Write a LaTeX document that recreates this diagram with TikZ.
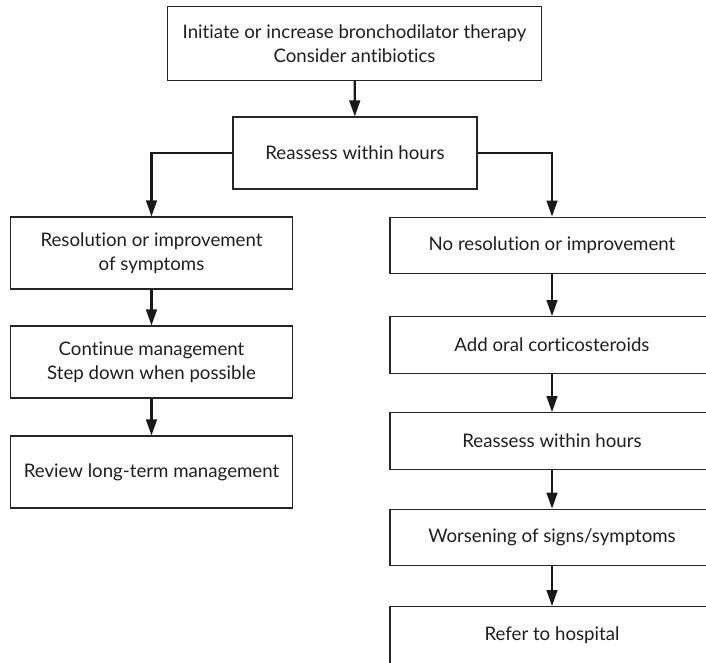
\documentclass[tikz,border=0pt]{standalone}
\usepackage{fontspec}
\setmainfont{Lato}[Ligatures=NoCommon]
\usetikzlibrary{arrows.meta}

\begin{document}
\begin{tikzpicture}[x=0.75pt,y=-0.75pt,
          box/.style={draw=black!85,line width=0.8pt,inner sep=0pt,align=center,
            text=black!88,font=\fontsize{14}{18}\selectfont},
          wide/.style={box,minimum width=212pt,minimum height=54pt},
          flat/.style={box,minimum width=243pt,minimum height=42.5pt},
          flow/.style={line width=1.7pt,draw=black!90,-{Triangle[length=12pt,width=8pt]}}]
          \useasboundingbox (0,0) rectangle (706,662);
          \node[box,minimum width=281pt,minimum height=55pt] (start) at (354.5,43.5)
            {Initiate or increase bronchodilator therapy\\Consider antibiotics};
          \node[box,minimum width=183pt,minimum height=54pt] (reassess) at (355,153)
            {Reassess within hours};
          \begin{scope}
            \node[wide] (better) at (151.5,253) {Resolution or improvement\\of symptoms};
            \node[wide] (cont) at (151.5,362) {Continue management\\Step down when possible};
            \node[wide] (review) at (151.5,472) {Review long-term management};
          \end{scope}
          \begin{scope}
            \node[flat] (nobetter) at (552,245.5) {No resolution or improvement};
            \node[flat] (steroids) at (552,345) {Add oral corticosteroids};
            \node[flat] (recheck) at (552,441) {Reassess within hours};
            \node[flat] (worse) at (552,537.5) {Worsening of signs/symptoms};
            \node[flat] (hospital) at (552,635) {Refer to hospital};
          \end{scope}
          \draw[flow] (start) -- (reassess);
          \draw[flow] (reassess.west) -| (better.north);
          \draw[flow] (reassess.east) -| (nobetter.north);
          \draw[flow] (better) -- (cont);
          \draw[flow] (cont) -- (review);
          \draw[flow] (nobetter) -- (steroids);
          \draw[flow] (steroids) -- (recheck);
          \draw[flow] (recheck) -- (worse);
          \draw[flow] (worse) -- (hospital);
        \end{tikzpicture}
\end{document}
